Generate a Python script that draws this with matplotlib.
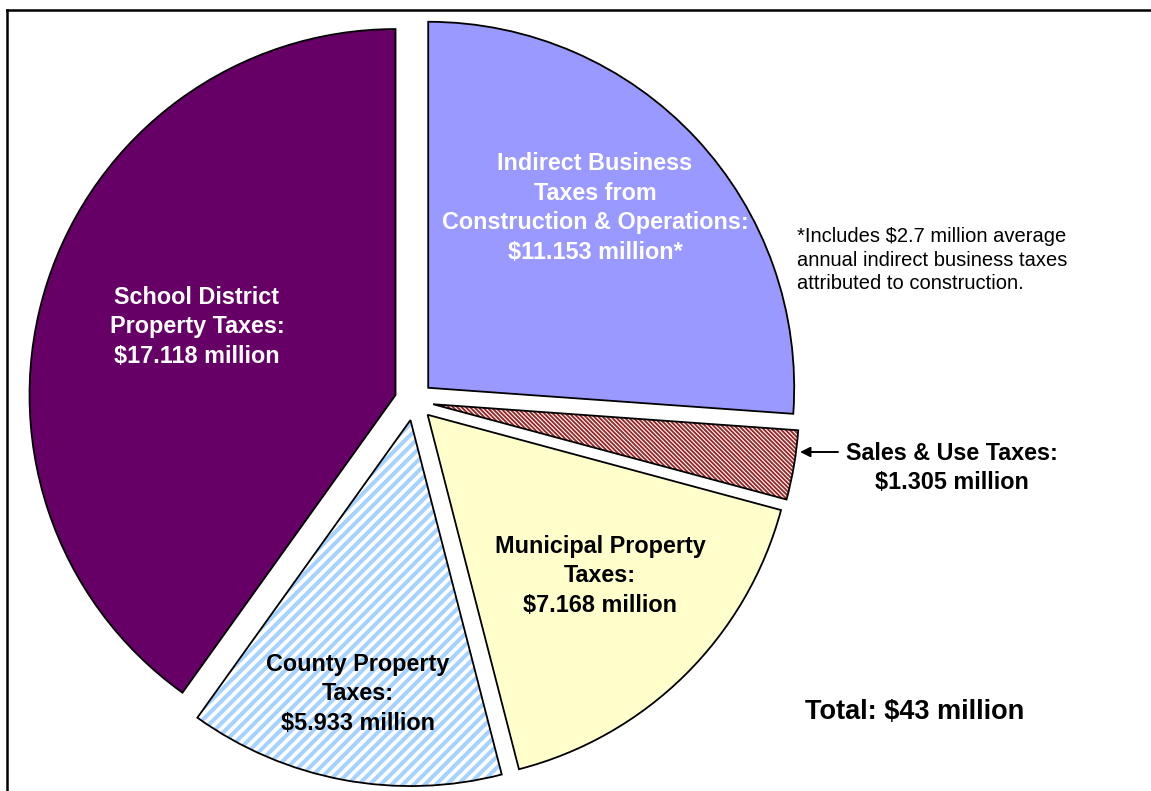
import numpy as np
import matplotlib
matplotlib.use("Agg")
import matplotlib.pyplot as plt
from matplotlib.collections import LineCollection
from matplotlib.patches import Wedge

plt.rcParams['font.family'] = ['Liberation Sans', 'DejaVu Sans']

# ---- data ----
categories = ["Indirect Business\nTaxes from\nConstruction & Operations:",
              "Sales & Use Taxes:",
              "Municipal Property\nTaxes:",
              "County Property\nTaxes:",
              "School District\nProperty Taxes:"]
values = [11.153, 1.305, 7.168, 5.933, 17.118]
suffixes = ["*", "", "", "", ""]
colors = ["#9999FF", "#992626", "#FFFFCC", "#FFFFFF", "#660066"]
text_colors = ["white", "black", "black", "black", "white"]
footnote = "*Includes $2.7 million average\nannual indirect business taxes\nattributed to construction."
total_label = "Total: $43 million"

W, H = 1151, 791
fig = plt.figure(figsize=(W / 100, H / 100), dpi=100)
ax = fig.add_axes([0, 0, 1, 1])

cx, cy, R, ex = 414, 390, 366, 19.4
wedges, _ = ax.pie(values, startangle=90, counterclock=False,
                   explode=[ex] * len(values), radius=R, center=(cx, cy),
                   colors=colors, frame=True,
                   wedgeprops=dict(edgecolor="none", linewidth=0))


def stripes(wedge, direction, period, lw_pt, color):
    # direction +1 -> "/" lines, -1 -> "\" lines
    x0, y0 = wedge.center[0] - R - 10, wedge.center[1] - R - 10
    x1, y1 = wedge.center[0] + R + 10, wedge.center[1] + R + 10
    segs = []
    step = period * np.sqrt(2)
    span = (x1 - x0) + (y1 - y0)
    for c in np.arange(-span, span, step):
        if direction > 0:
            segs.append([(x0, y0 + c), (x1, y0 + c + (x1 - x0))])
        else:
            segs.append([(x0, y1 + c), (x1, y1 + c - (x1 - x0))])
    lc = LineCollection(segs, colors=color, linewidths=lw_pt, zorder=wedge.get_zorder() + 0.1)
    ax.add_collection(lc)
    lc.set_clip_path(wedge)


stripes(wedges[1], -1, 3.0, 0.8, "white")
stripes(wedges[3], +1, 7.8, 2.9, "#A6D2FF")

# outlines on top
for w in wedges:
    ax.add_patch(Wedge(w.center, w.r, w.theta1, w.theta2, fill=False,
                       edgecolor="black", linewidth=1.3, zorder=5))

# ---- labels ----
def Y(py):
    return H - py

FS = 16.8
LS = 1.38
label_pos = [(595, 208), None, (600, 576), (358, 694), (197, 327)]
for i, (cat, v, suf) in enumerate(zip(categories, values, suffixes)):
    txt = f"{cat}\n${v:.3f} million{suf}"
    if label_pos[i] is None:
        continue
    x, y = label_pos[i]
    ax.text(x, Y(y), txt, ha="center", va="center", fontsize=FS,
            fontweight="bold", color=text_colors[i], linespacing=LS, zorder=6)

# sales label outside with arrow
ax.text(952, Y(468), f"{categories[1]}\n${values[1]:.3f} million",
        ha="center", va="center", fontsize=FS, fontweight="bold",
        color="black", linespacing=LS, zorder=6)
ax.annotate("", xy=(800, Y(452)), xytext=(838, Y(452)),
            arrowprops=dict(arrowstyle="-|>", color="black", lw=1.4,
                            mutation_scale=15, shrinkA=0, shrinkB=0), zorder=6)

ax.text(797, Y(260), footnote, ha="left", va="center", fontsize=14.5,
        color="black", linespacing=1.32, zorder=6)
ax.text(915, Y(712), total_label, ha="center", va="center", fontsize=19.5,
        fontweight="bold", color="black", zorder=6)

# frame (top and left visible)
ax.plot([7, 1160], [Y(10), Y(10)], color="black", lw=1.8, zorder=7, clip_on=False)
ax.plot([7, 7], [Y(10), -5], color="black", lw=1.8, zorder=7, clip_on=False)

ax.set_xlim(0, W)
ax.set_ylim(0, H)
ax.set_aspect("equal")
ax.axis("off")

fig.savefig("out.png", dpi=100, facecolor="white")
